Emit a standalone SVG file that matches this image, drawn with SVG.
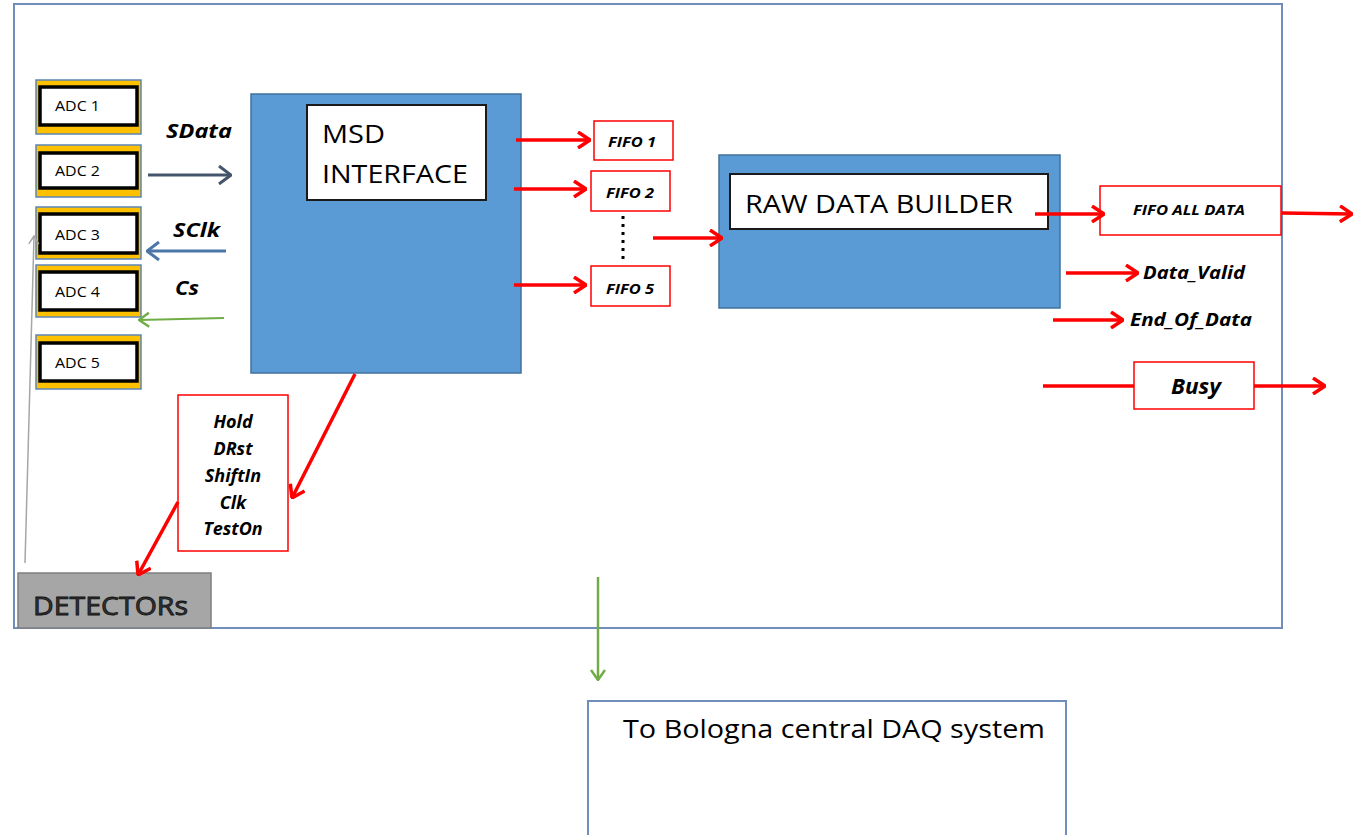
<svg xmlns="http://www.w3.org/2000/svg" width="1360" height="835" viewBox="0 0 1360 835">
<style>
.frame{fill:#fff;stroke:#6f8fba;stroke-width:2}
.adco{fill:#ffc000;stroke:#5b86b5;stroke-width:1.5}
.adci{fill:#fff;stroke:#000;stroke-width:3.5}
.adct{font-family:"Open Sans","Liberation Sans",sans-serif;font-size:14px;fill:#000}
.blue{fill:#5b9bd5;stroke:#41719c;stroke-width:1.5}
.white{fill:#fff;stroke:#1a1a1a;stroke-width:2}
.big{font-family:"Open Sans","Liberation Sans",sans-serif;font-size:26px;fill:#000}
.red{fill:#fff;stroke:#ff0000;stroke-width:1.5}
.bi{font-family:"Open Sans","Liberation Sans",sans-serif;font-weight:bold;font-style:italic;fill:#000}
.ra{stroke:#ff0000;stroke-width:3.5;fill:none;marker-end:url(#mr)}
</style>
<defs>
<marker id="mr" viewBox="0 0 14 18" refX="13" refY="9" markerWidth="14" markerHeight="18" markerUnits="userSpaceOnUse" orient="auto"><path d="M1,1 L13,9 L1,17" fill="none" stroke="#ff0000" stroke-width="3.5"/></marker>
<marker id="md" viewBox="0 0 14 20" refX="13" refY="10" markerWidth="14" markerHeight="20" markerUnits="userSpaceOnUse" orient="auto"><path d="M1,1 L13,10 L1,19" fill="none" stroke="#44546a" stroke-width="3"/></marker>
<marker id="mb" viewBox="0 0 14 20" refX="13" refY="10" markerWidth="14" markerHeight="20" markerUnits="userSpaceOnUse" orient="auto"><path d="M1,1 L13,10 L1,19" fill="none" stroke="#4a76a8" stroke-width="3"/></marker>
<marker id="mg" viewBox="0 0 12 16" refX="11" refY="8" markerWidth="12" markerHeight="16" markerUnits="userSpaceOnUse" orient="auto"><path d="M1,1 L11,8 L1,15" fill="none" stroke="#70ad47" stroke-width="2.5"/></marker>
<marker id="mgr" viewBox="0 0 10 12" refX="9" refY="6" markerWidth="10" markerHeight="12" markerUnits="userSpaceOnUse" orient="auto"><path d="M1,1 L9,6 L1,11" fill="none" stroke="#a6a6a6" stroke-width="1.5"/></marker>
</defs>
<rect width="1360" height="835" fill="#fff"/>
<rect id="frame" class="frame" x="14" y="4" width="1268" height="624"/>

<g id="adc1"><rect class="adco" x="36" y="80" width="105" height="54"/><rect class="adci" x="40" y="87" width="97" height="38"/><text class="adct" x="55" y="111" textLength="45" lengthAdjust="spacingAndGlyphs">ADC 1</text></g>
<g id="adc2"><rect class="adco" x="36" y="145" width="105" height="52"/><rect class="adci" x="40" y="153" width="97" height="35"/><text class="adct" x="55" y="176" textLength="45" lengthAdjust="spacingAndGlyphs">ADC 2</text></g>
<g id="adc3"><rect class="adco" x="36" y="207" width="105" height="52"/><rect class="adci" x="40" y="214" width="97" height="39"/><text class="adct" x="55" y="240" textLength="45" lengthAdjust="spacingAndGlyphs">ADC 3</text></g>
<g id="adc4"><rect class="adco" x="36" y="265" width="105" height="52"/><rect class="adci" x="40" y="272" width="97" height="38"/><text class="adct" x="55" y="297" textLength="45" lengthAdjust="spacingAndGlyphs">ADC 4</text></g>
<g id="adc5"><rect class="adco" x="36" y="335" width="105" height="54"/><rect class="adci" x="40" y="343" width="97" height="38"/><text class="adct" x="55" y="368" textLength="45" lengthAdjust="spacingAndGlyphs">ADC 5</text></g>

<g id="msd"><rect class="blue" x="251" y="94" width="270" height="279"/><rect class="white" x="307" y="105" width="179" height="95"/><text class="big" x="322" y="143" textLength="63" lengthAdjust="spacingAndGlyphs">MSD</text><text class="big" x="322" y="183" textLength="146" lengthAdjust="spacingAndGlyphs">INTERFACE</text></g>

<g id="fifo1"><rect class="red" x="594" y="121" width="79" height="39"/><text class="bi" font-size="14" x="608" y="147" textLength="48" lengthAdjust="spacingAndGlyphs">FIFO 1</text></g>
<g id="fifo2"><rect class="red" x="591" y="171" width="79" height="40"/><text class="bi" font-size="14" x="606" y="198" textLength="48" lengthAdjust="spacingAndGlyphs">FIFO 2</text></g>
<g id="fifo5"><rect class="red" x="591" y="266" width="79" height="40"/><text class="bi" font-size="14" x="606" y="294" textLength="48" lengthAdjust="spacingAndGlyphs">FIFO 5</text></g>

<g id="rdb"><rect class="blue" x="719" y="155" width="341" height="153"/><rect class="white" x="730" y="174" width="318" height="55"/><text class="big" x="745" y="213" textLength="268" lengthAdjust="spacingAndGlyphs">RAW DATA BUILDER</text></g>

<g id="fifoall"><rect class="red" x="1100" y="186" width="181" height="49"/><text class="bi" font-size="14" x="1133" y="215" textLength="112" lengthAdjust="spacingAndGlyphs">FIFO ALL DATA</text></g>
<g id="datavalid"><text class="bi" font-size="18" x="1143" y="279" textLength="102" lengthAdjust="spacingAndGlyphs">Data_Valid</text></g>
<g id="endofdata"><text class="bi" font-size="18" x="1130" y="326" textLength="122" lengthAdjust="spacingAndGlyphs">End_Of_Data</text></g>
<g id="busy"><rect class="red" x="1134" y="362" width="120" height="47"/><text class="bi" font-size="22" x="1171" y="394" textLength="50" lengthAdjust="spacingAndGlyphs">Busy</text></g>

<g id="signals"><rect class="red" x="178" y="395" width="110" height="156"/>
<text class="bi" font-size="18" text-anchor="middle"><tspan x="233" y="428">Hold</tspan><tspan x="233" y="455">DRst</tspan><tspan x="233" y="482">ShiftIn</tspan><tspan x="233" y="509">Clk</tspan><tspan x="233" y="535">TestOn</tspan></text></g>

<g id="detectors"><rect x="18" y="573" width="193" height="55" fill="#a6a6a6" stroke="#7f7f7f" stroke-width="1.5"/><text x="33" y="615" font-family="'Open Sans','Liberation Sans',sans-serif" font-size="26" fill="#333" stroke="#111" stroke-width="0.8" textLength="155" lengthAdjust="spacingAndGlyphs">DETECTORs</text></g>

<g id="daq"><rect x="588" y="701" width="478" height="140" fill="#fff" stroke="#6f8fba" stroke-width="2"/><text class="big" x="623" y="738" textLength="422" lengthAdjust="spacingAndGlyphs">To Bologna central DAQ system</text></g>

<g id="labels">
<text class="bi" font-size="20" x="166" y="138" textLength="66" lengthAdjust="spacingAndGlyphs">SData</text>
<text class="bi" font-size="20" x="173" y="237" textLength="47" lengthAdjust="spacingAndGlyphs">SClk</text>
<text class="bi" font-size="20" x="175" y="295" textLength="24" lengthAdjust="spacingAndGlyphs">Cs</text>
</g>

<g id="connectors">
<line x1="148" y1="175" x2="231" y2="175" stroke="#44546a" stroke-width="3" marker-end="url(#md)"/>
<line x1="226" y1="251" x2="147" y2="251" stroke="#4a76a8" stroke-width="3" marker-end="url(#mb)"/>
<line x1="224" y1="318" x2="139" y2="320" stroke="#70ad47" stroke-width="2" marker-end="url(#mg)"/>
<line x1="25" y1="563" x2="34" y2="236" stroke="#a6a6a6" stroke-width="1.5" marker-end="url(#mgr)"/>
<line class="ra" x1="516" y1="140" x2="590" y2="140"/>
<line class="ra" x1="514" y1="189" x2="586" y2="189"/>
<line class="ra" x1="514" y1="285" x2="586" y2="285"/>
<line x1="623" y1="216" x2="623" y2="262" stroke="#000" stroke-width="3" stroke-dasharray="3,5"/>
<line class="ra" x1="653" y1="238" x2="722" y2="238"/>
<line class="ra" x1="1035" y1="214" x2="1104" y2="214"/>
<line class="ra" x1="1282" y1="213" x2="1352" y2="214"/>
<line class="ra" x1="1066" y1="273" x2="1138" y2="273"/>
<line class="ra" x1="1053" y1="320" x2="1123" y2="320"/>
<line x1="1043" y1="386" x2="1134" y2="386" stroke="#ff0000" stroke-width="3.5"/>
<line class="ra" x1="1254" y1="386" x2="1325" y2="386"/>
<line class="ra" x1="355" y1="374" x2="292" y2="498"/>
<line class="ra" x1="178" y1="502" x2="138" y2="575"/>
<line x1="598" y1="577" x2="598" y2="680" stroke="#70ad47" stroke-width="2.5" marker-end="url(#mg)"/>
</g>
</svg>
